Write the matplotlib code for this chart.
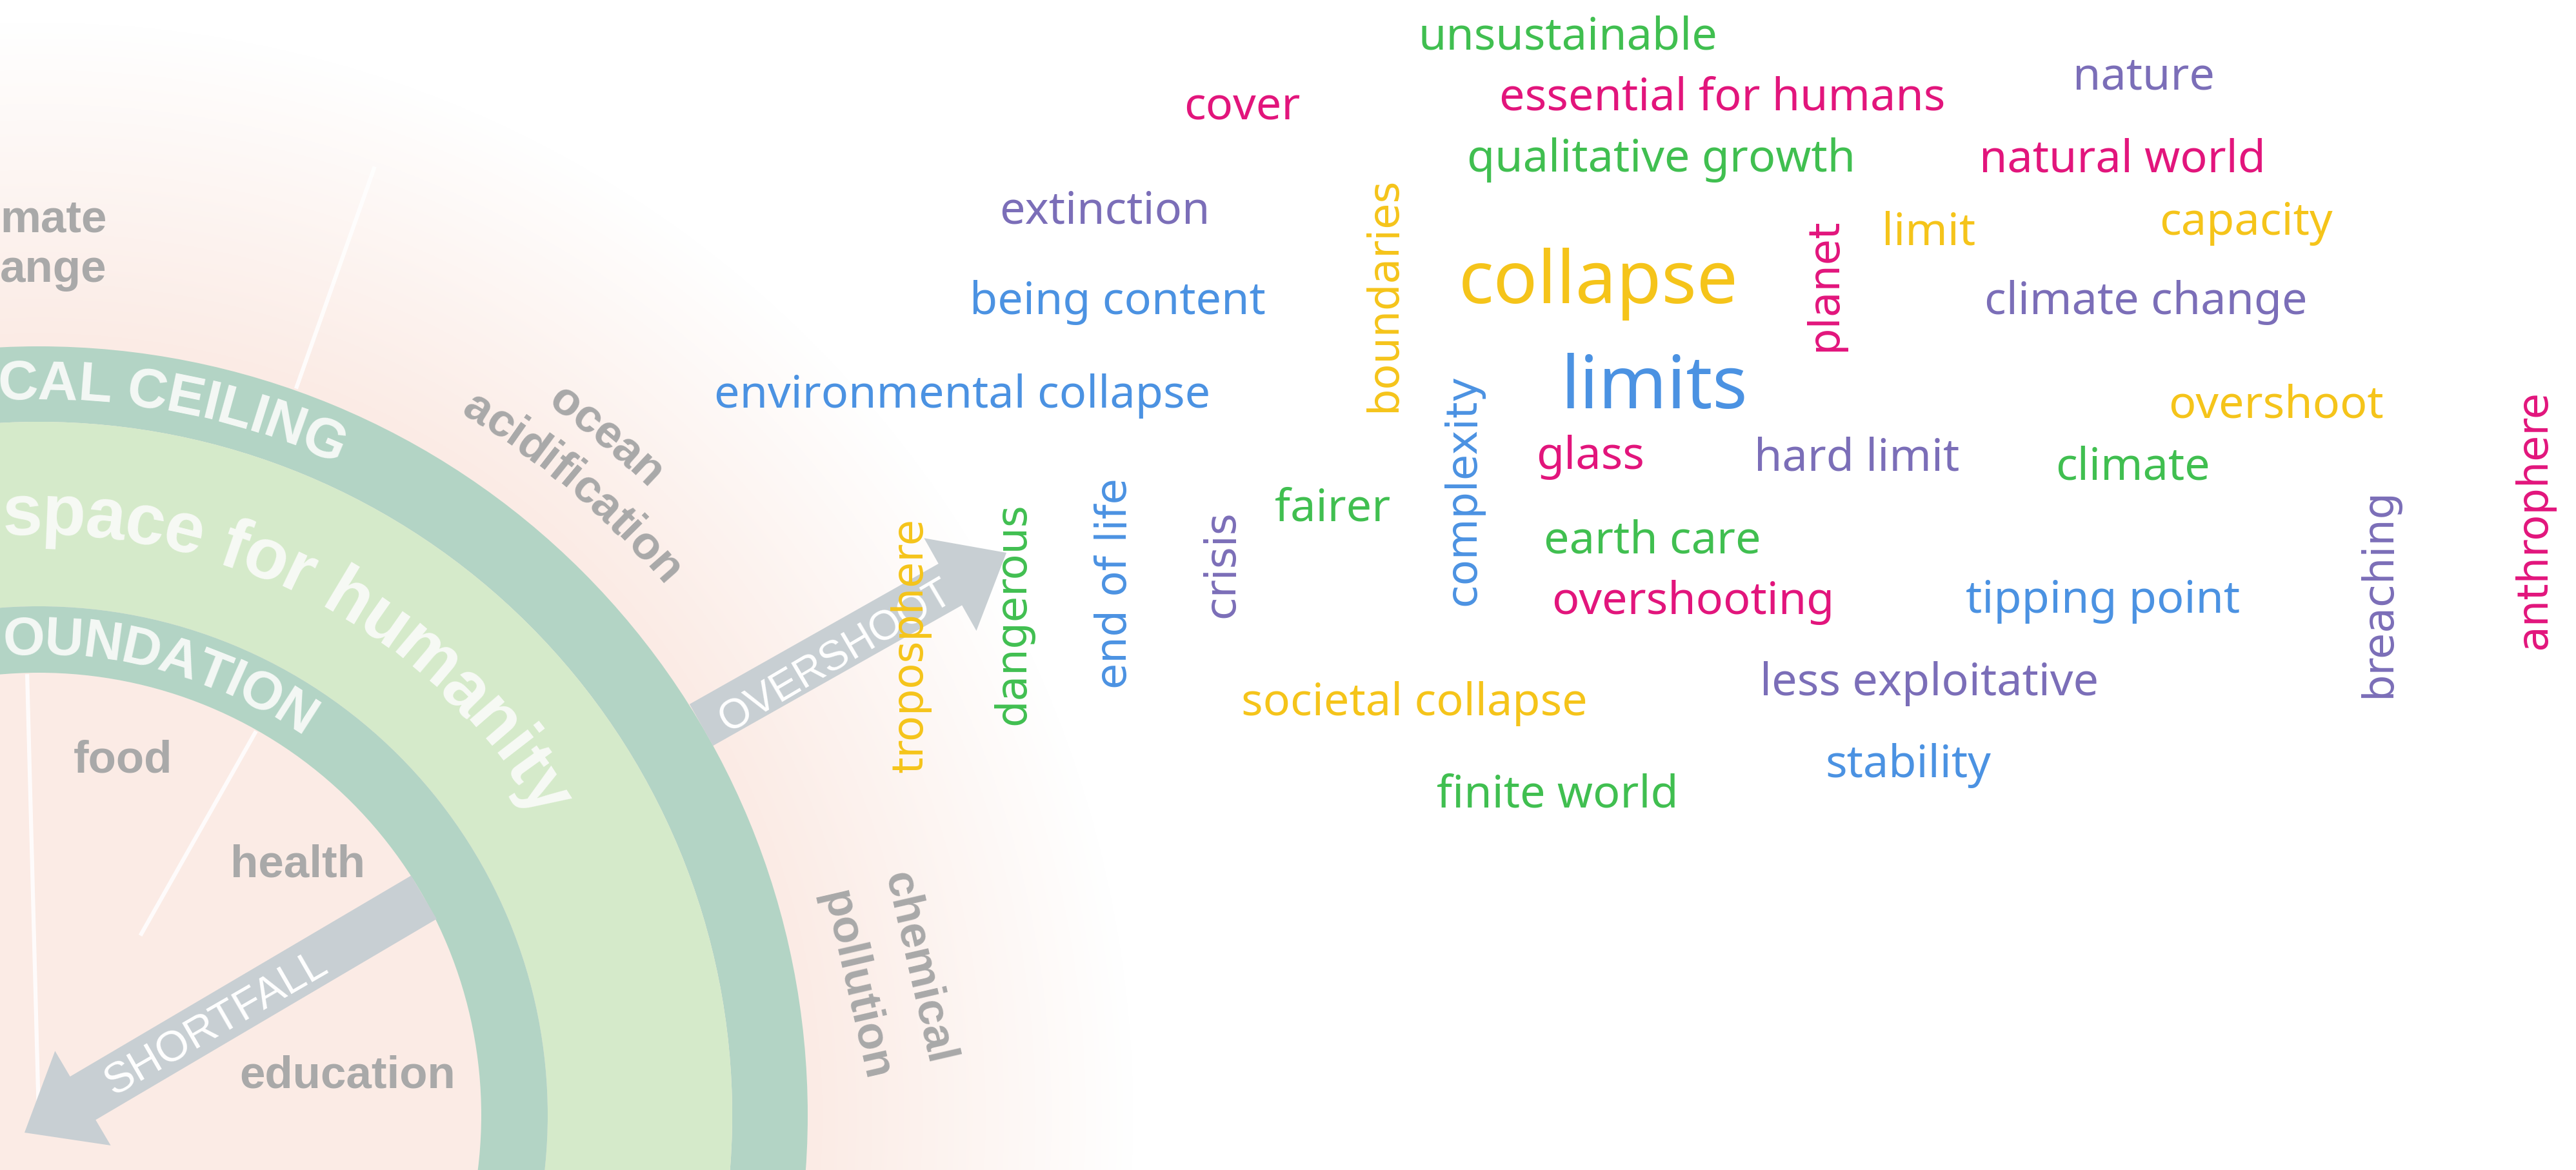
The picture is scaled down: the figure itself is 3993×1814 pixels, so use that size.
import numpy as np
import matplotlib.pyplot as plt
from matplotlib.patches import Wedge, FancyArrow

# ---- word cloud data (pixel layout of the original picture) ----
words_h = ["unsustainable", "cover", "essential for humans", "nature",
           "qualitative growth", "natural world", "extinction", "limit",
           "capacity", "collapse", "being content", "climate change", "limits",
           "environmental collapse", "overshoot", "glass", "hard limit",
           "climate", "fairer", "earth care", "overshooting", "tipping point",
           "less exploitative", "societal collapse", "stability", "finite world"]
count_h = [1, 1, 1, 1, 1, 1, 1, 1, 1, 3, 1, 1, 3, 1, 1, 1, 1, 1, 1, 1, 1, 1, 1, 1, 1, 1]
x_h = [2430, 1925, 2670, 3323, 2575, 3290, 1712, 2990, 3481, 2478, 1732, 3326, 2564,
       1492, 3528, 2465, 2878, 3306, 2066, 2561, 2624, 3260, 2991, 2192, 2958, 2414]
y_h = [76, 185, 170, 138, 266, 266, 346, 379, 364, 470, 487, 487, 633,
       632, 647, 727, 729, 743, 808, 857, 952, 950, 1078, 1109, 1205, 1252]
col_h = ["g", "m", "m", "p", "g", "m", "p", "y", "y", "y", "b", "p", "b",
         "b", "y", "m", "p", "g", "g", "g", "m", "b", "p", "y", "b", "g"]

words_v = ["boundaries", "planet", "complexity", "troposphere", "dangerous",
           "end of life", "crisis", "breaching", "anthrophere"]
count_v = [1, 1, 1, 1, 1, 1, 1, 1, 1]
x_v = [2163, 2846, 2286, 1429, 1588, 1746, 1912, 3705, 3946]
y_v = [457, 442, 759, 1000, 952, 905, 875, 919, 806]
col_v = ["y", "m", "b", "y", "g", "b", "p", "p", "m"]

palette = {"g": "#40bf50", "m": "#e2157c", "p": "#7b6eb8", "b": "#4b92e2", "y": "#f5c41a"}

# ---- doughnut background ----
cx, cy = 60, 1730
r_outer, r_ceiling_in, r_found_out, r_found_in = 1192, 1075, 789, 686

W, H = 3993, 1815
fig = plt.figure(figsize=(W / 100, H / 100), dpi=100)
ax = fig.add_axes([0, 0, 1, 1])

# soft pink wash behind the doughnut
yy, xx = np.mgrid[0:H:4, 0:W:4]
rr = np.hypot(xx - cx, yy - cy)
wash = np.zeros(rr.shape + (4,))
wash[..., 0], wash[..., 1], wash[..., 2] = 0.97, 0.84, 0.79
wash[..., 3] = np.clip((1700 - rr) / 500, 0, 1) * 0.48
ax.imshow(wash, extent=(0, W, H, 0), zorder=0, interpolation="bilinear", aspect="auto")

ring = "#b3d4c5"
ax.add_patch(Wedge((cx, cy), r_outer, 0, 360, width=r_outer - r_ceiling_in, color=ring, zorder=1, lw=0))
ax.add_patch(Wedge((cx, cy), r_ceiling_in, 0, 360, width=r_ceiling_in - r_found_out, color="#d5eaca", zorder=1, lw=0))
ax.add_patch(Wedge((cx, cy), r_found_out, 0, 360, width=r_found_out - r_found_in, color=ring, zorder=1, lw=0))

# white spokes
for ang, r0, r1 in [(70.5, 1195, 1560), (91.5, 0, 684), (60.5, 320, 684)]:
    a = np.radians(ang)
    ax.plot([cx + r0 * np.cos(a), cx + r1 * np.cos(a)],
            [cy - r0 * np.sin(a), cy - r1 * np.sin(a)],
            color="white", lw=4.5, alpha=0.85, zorder=2, solid_capstyle="butt")

# overshoot / shortfall arrows
arrow_col = "#c8cfd3"
a = np.radians(30.5)
sx, sy = cx + r_outer * np.cos(a), cy - r_outer * np.sin(a)
ax.add_patch(FancyArrow(sx, sy, 1560 - sx, 858 - sy, width=74, head_width=165, head_length=100,
                        length_includes_head=True, color=arrow_col, lw=0, zorder=3))
a = np.radians(29.5)
sx, sy = cx + r_found_in * np.cos(a), cy - r_found_in * np.sin(a)
ax.add_patch(FancyArrow(sx, sy, 38 - sx, 1757 - sy, width=78, head_width=170, head_length=105,
                        length_includes_head=True, color=arrow_col, lw=0, zorder=3))

ax.text(1296, 1018, "OVERSHOOT", rotation=30.5, rotation_mode="anchor", ha="center", va="center",
        fontsize=46, color="white", family="Liberation Sans", zorder=4)
ax.text(335, 1588, "SHORTFALL", rotation=30, rotation_mode="anchor", ha="center", va="center",
        fontsize=48, color="white", family="Liberation Sans", zorder=4)

# character widths (Arial bold) for text along arcs
CW = {"A": .722, "C": .722, "D": .722, "E": .667, "F": .611, "G": .778, "I": .278, "L": .611,
      "N": .722, "O": .778, "S": .667, "T": .611, "U": .722, " ": .278,
      "a": .556, "c": .556, "d": .611, "e": .556, "f": .333, "h": .611, "i": .278, "j": .278,
      "l": .278, "m": .889, "n": .611, "o": .611, "p": .611, "r": .389, "s": .556, "t": .333,
      "u": .611, "y": .556}


def arc_text(s, r, a_start, size, color):
    em = size * 100 / 72
    ang = np.radians(a_start)
    for ch in s:
        w = CW.get(ch, .6) * em
        ac = ang - w / 2 / r
        ax.text(cx + r * np.cos(ac), cy - r * np.sin(ac), ch, rotation=np.degrees(ac) - 90,
                rotation_mode="anchor", ha="center", va="center", fontsize=size, color=color,
                family="Liberation Sans", weight="bold", zorder=4)
        ang -= w / r


# only the parts of the ring labels that show inside the frame
arc_text("CAL CEILING", 1133, 93.2, 62, "#f4f8f5")
arc_text("OUNDATION", 737, 94.3, 60, "#f4f8f5")
arc_text("space for humanity", 930, 93.5, 80, "#f7faf5")

grey = "#a9a9a9"
arc_text("ocean", 1373, 54.5, 52, grey)
arc_text("acidification", 1288, 59.0, 52, grey)

lab = dict(fontsize=51, color=grey, family="Liberation Sans", weight="bold", zorder=4)
ax.text(0, 359, "mate", ha="left", va="baseline", **lab)
ax.text(0, 437, "ange", ha="left", va="baseline", **lab)
ax.text(190, 1198, "food", ha="center", va="baseline", **lab)
ax.text(462, 1360, "health", ha="center", va="baseline", **lab)
ax.text(539, 1687, "education", ha="center", va="baseline", **lab)
ax.text(1423, 1501, "chemical", rotation=-77, rotation_mode="anchor", ha="center", va="center", **lab)
ax.text(1325, 1528, "pollution", rotation=-77, rotation_mode="anchor", ha="center", va="center", **lab)

# ---- the words ----
def word_size(c, base):
    return base * (1 + 0.31 * (c - 1))


for w, c, x, y, k in zip(words_h, count_h, x_h, y_h, col_h):
    ax.text(x, y, w, ha="center", va="baseline", fontsize=word_size(c, 50.5),
            family="Noto Sans", color=palette[k], zorder=5)

for w, c, x, y, k in zip(words_v, count_v, x_v, y_v, col_v):
    ax.text(x, y, w, rotation=90, rotation_mode="anchor", ha="center", va="baseline",
            fontsize=word_size(c, 47), family="DejaVu Sans", color=palette[k], zorder=5)

ax.set_xlim(0, W)
ax.set_ylim(H, 0)
ax.axis("off")
fig.savefig("out.png", dpi=100, facecolor="white")
